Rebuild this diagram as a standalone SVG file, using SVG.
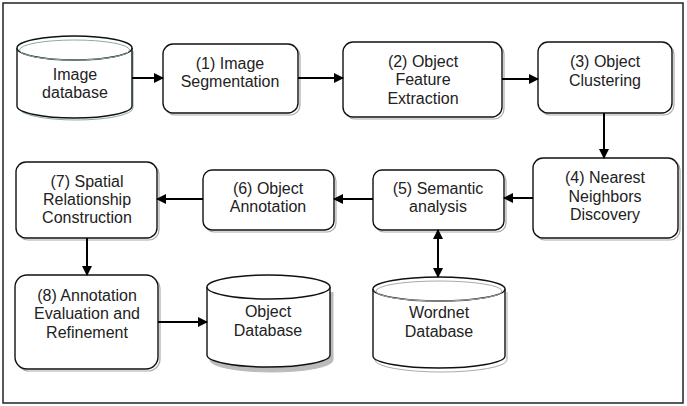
<svg xmlns="http://www.w3.org/2000/svg" width="687" height="406" viewBox="0 0 687 406">
<style>
.box{fill:#fff;stroke:#111;stroke-width:1.4}
.sh{fill:none;stroke:#aaa;stroke-width:1.2}
.t{font-family:"Liberation Sans",Arial,sans-serif;font-size:16px;fill:#222;text-anchor:middle}
.c{stroke:#000;stroke-width:2;fill:none}
</style>
<defs>
<marker id="ah" markerWidth="10" markerHeight="10" refX="9" refY="5" orient="auto" markerUnits="userSpaceOnUse">
<path d="M0,0 L10,5 L0,10 Z" fill="#000"/>
</marker>
<marker id="as" markerWidth="10" markerHeight="10" refX="1" refY="5" orient="auto" markerUnits="userSpaceOnUse">
<path d="M10,0 L0,5 L10,10 Z" fill="#000"/>
</marker>
</defs>
<rect x="3" y="3" width="680" height="400" fill="#fff" stroke="#222" stroke-width="1.5"/>

<g id="imgdb">
<path d="M18,49 L18,106 A57,12 0 0 0 132,106 L132,49" fill="#fff" stroke="#8aa" stroke-width="1" transform="translate(1,2)"/>
<path d="M17,48 L17,106 A57.5,12 0 0 0 132,106 L132,48" class="box"/>
<ellipse cx="74.5" cy="48" rx="57.5" ry="12" class="box"/>
<ellipse cx="74.5" cy="50" rx="55" ry="10" fill="none" stroke="#8aa" stroke-width="1"/>
<text class="t" x="75" y="80">Image</text>
<text class="t" x="75" y="98">database</text>
</g>

<g id="n1">
<rect x="165" y="46" width="135" height="69" rx="10" class="sh"/>
<rect x="163" y="44" width="135" height="69" rx="10" class="box"/>
<text class="t" x="230" y="69">(1) Image</text>
<text class="t" x="230" y="87">Segmentation</text>
</g>

<g id="n2">
<rect x="345" y="44" width="159" height="75" rx="10" class="sh"/>
<rect x="343" y="42" width="159" height="75" rx="10" class="box"/>
<text class="t" x="423" y="67">(2) Object</text>
<text class="t" x="423" y="85">Feature</text>
<text class="t" x="423" y="104">Extraction</text>
</g>

<g id="n3">
<rect x="540" y="44" width="134" height="71" rx="10" class="sh"/>
<rect x="538" y="42" width="134" height="71" rx="10" class="box"/>
<text class="t" x="605" y="67">(3) Object</text>
<text class="t" x="605" y="86">Clustering</text>
</g>

<g id="n4">
<rect x="535" y="160" width="145" height="80" rx="10" class="sh"/>
<rect x="533" y="158" width="145" height="80" rx="10" class="box"/>
<text class="t" x="605" y="183">(4) Nearest</text>
<text class="t" x="605" y="202">Neighbors</text>
<text class="t" x="605" y="220">Discovery</text>
</g>

<g id="n5">
<rect x="375" y="172" width="131" height="60" rx="9" class="sh"/>
<rect x="373" y="170" width="131" height="60" rx="9" class="box"/>
<text class="t" x="438" y="194">(5) Semantic</text>
<text class="t" x="438" y="212">analysis</text>
</g>

<g id="n6">
<rect x="205" y="172" width="131" height="60" rx="9" class="sh"/>
<rect x="203" y="170" width="131" height="60" rx="9" class="box"/>
<text class="t" x="268" y="194">(6) Object</text>
<text class="t" x="268" y="212">Annotation</text>
</g>

<g id="n7">
<rect x="18" y="164" width="141" height="76" rx="10" class="sh"/>
<rect x="16" y="162" width="141" height="76" rx="10" class="box"/>
<text class="t" x="87" y="187">(7) Spatial</text>
<text class="t" x="87" y="205">Relationship</text>
<text class="t" x="87" y="223">Construction</text>
</g>

<g id="n8">
<rect x="17" y="277" width="143" height="94" rx="12" class="sh"/>
<rect x="15" y="275" width="143" height="94" rx="12" class="box"/>
<text class="t" x="87" y="301">(8) Annotation</text>
<text class="t" x="87" y="319">Evaluation and</text>
<text class="t" x="87" y="338">Refinement</text>
</g>

<g id="objdb">
<path d="M209,289 L209,357 A61.5,12 0 0 0 332,357 L332,289" fill="#bbb" stroke="#bbb" stroke-width="1" transform="translate(1,3)"/>
<path d="M207,287 L207,355 A61.5,12 0 0 0 330,355 L330,287" class="box"/>
<ellipse cx="268.5" cy="287" rx="61.5" ry="12" class="box"/>
<text class="t" x="268" y="317">Object</text>
<text class="t" x="268" y="336">Database</text>
</g>

<g id="wndb">
<path d="M375,290 L375,358 A66,12 0 0 0 507,358 L507,290" fill="#fff" stroke="#aaa" stroke-width="1" transform="translate(0,2)"/>
<path d="M373,289 L373,356 A66,12 0 0 0 505,356 L505,289" class="box"/>
<ellipse cx="439" cy="289" rx="66" ry="12" class="box"/>
<ellipse cx="439" cy="291" rx="63" ry="10" fill="none" stroke="#aaa" stroke-width="1"/>
<text class="t" x="439" y="318">Wordnet</text>
<text class="t" x="439" y="337">Database</text>
</g>

<g id="connectors">
<line x1="132" y1="78" x2="163" y2="78" class="c" marker-end="url(#ah)"/>
<line x1="298" y1="78" x2="343" y2="78" class="c" marker-end="url(#ah)"/>
<line x1="502" y1="79" x2="538" y2="79" class="c" marker-end="url(#ah)"/>
<line x1="604" y1="113" x2="604" y2="158" class="c" marker-end="url(#ah)"/>
<line x1="533" y1="198" x2="504" y2="198" class="c" marker-end="url(#ah)"/>
<line x1="373" y1="199" x2="334" y2="199" class="c" marker-end="url(#ah)"/>
<line x1="203" y1="199" x2="157" y2="199" class="c" marker-end="url(#ah)"/>
<line x1="87" y1="238" x2="87" y2="275" class="c" marker-end="url(#ah)"/>
<line x1="158" y1="322" x2="207" y2="322" class="c" marker-end="url(#ah)"/>
<line x1="438" y1="230" x2="438" y2="277" class="c" marker-start="url(#as)" marker-end="url(#ah)"/>
</g>
</svg>
